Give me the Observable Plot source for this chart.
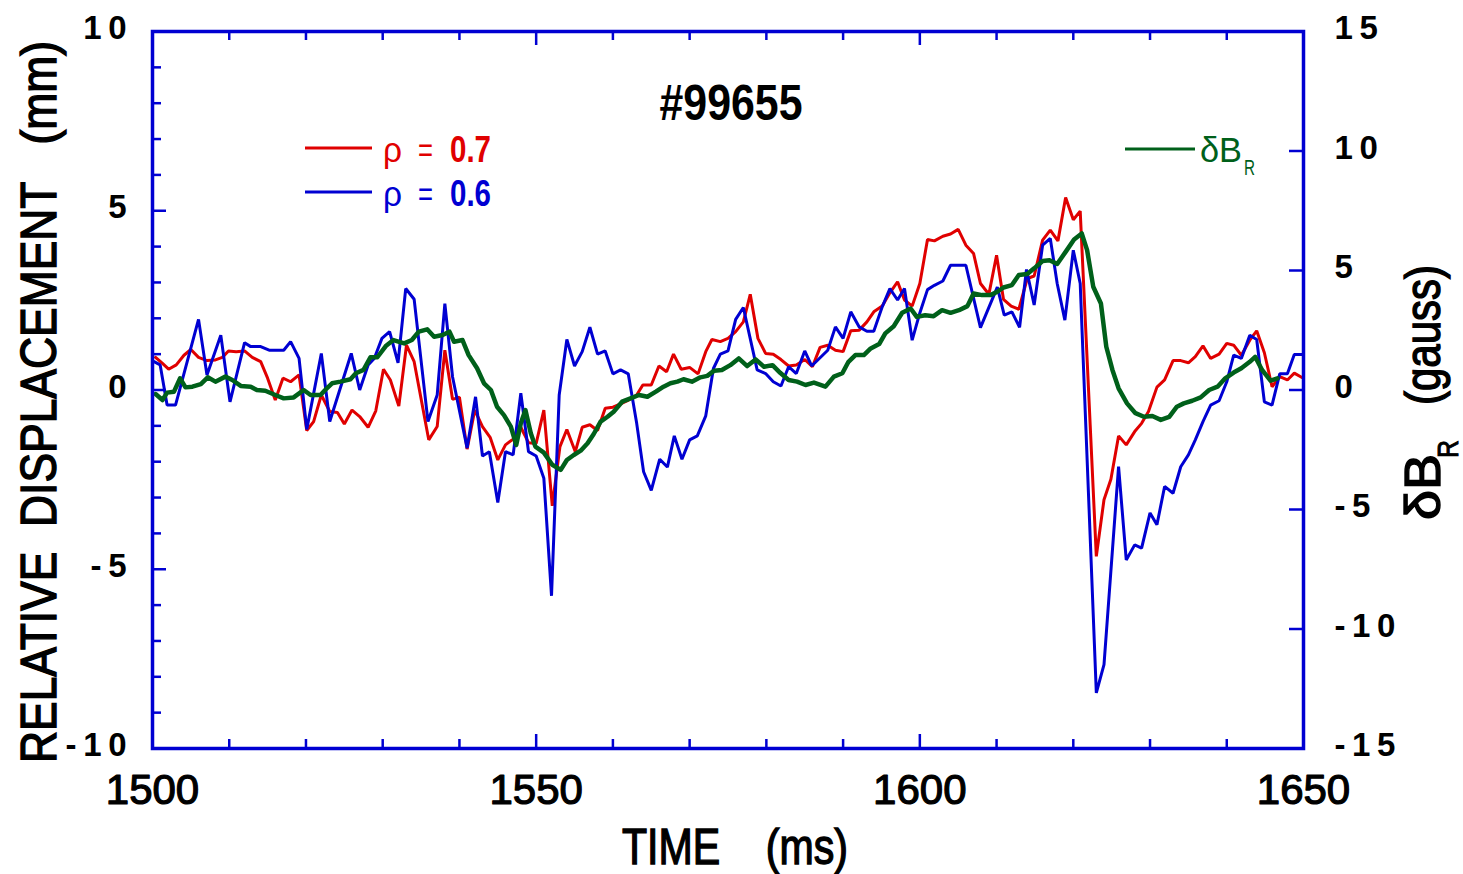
<!DOCTYPE html>
<html><head><meta charset="utf-8">
<script src="https://cdn.jsdelivr.net/npm/d3@7"></script>
<script src="https://cdn.jsdelivr.net/npm/@observablehq/plot@0.6"></script>
<style>
html,body{margin:0;padding:0;background:#fff;}
#chart{position:relative;width:1463px;height:874px;}
</style></head><body><div id="chart"></div>
<script>
// ---- data ----
const shotLabel = "#99655";
const xTickLabels = [1500, 1550, 1600, 1650];
const leftTickLabels = [10, 5, 0, -5, -10];      // mm
const rightTickLabels = [15, 10, 5, 0, -5, -10, -15]; // gauss

// rho = 0.6 (blue), relative displacement in mm
const blueT = [1500.2,1501.0,1501.9,1503.0,1506.0,1507.1,1508.9,1510.1,1512.0,1512.8,
1514.1,1515.2,1517.1,1518.0,1519.1,1520.1,1522.0,1523.1,1525.9,1527.0,
1528.1,1528.9,1529.9,1530.9,1532.0,1533.0,1534.1,1535.9,1537.1,1538.1,
1539.1,1541.0,1542.1,1543.0,1543.9,1545.0,1546.0,1547.0,1548.0,1549.0,
1550.0,1551.0,1552.0,1553.0,1554.0,1555.0,1556.0,1557.0,1558.0,1559.0,
1560.0,1561.0,1562.0,1563.1,1564.0,1565.0,1566.1,1567.1,1568.0,1569.0,
1570.0,1571.0,1572.1,1573.1,1574.0,1575.0,1576.0,1577.0,1578.8,1579.9,
1580.9,1581.9,1582.9,1583.9,1585.0,1585.9,1588.0,1589.0,1590.0,1591.0,
1592.1,1593.1,1594.0,1595.1,1596.1,1597.1,1598.0,1599.0,1600.0,1601.0,
1601.9,1603.0,1604.0,1606.0,1607.9,1610.1,1611.0,1612.0,1613.0,1613.9,
1614.9,1616.0,1617.0,1617.9,1618.9,1620.0,1620.9,1623.0,1624.0,1625.9,
1626.9,1628.0,1628.9,1630.0,1630.9,1631.9,1633.0,1634.0,1635.0,1635.9,
1636.9,1637.9,1639.0,1640.0,1640.9,1641.9,1643.0,1643.9,1644.9,1645.9,
1646.9,1647.9,1648.8,1649.8];
const blueV = [0.79,0.70,-0.42,-0.42,1.97,0.42,1.53,-0.33,1.32,1.21,
1.21,1.11,1.11,1.35,0.88,-1.10,1.02,-0.88,1.02,0.00,
0.70,0.88,1.44,1.63,0.76,2.83,2.53,-0.88,-0.14,2.41,
0.37,-1.62,-0.19,-1.84,-1.72,-3.14,-1.72,-1.81,-0.09,-1.72,
-1.84,-2.46,-5.74,-0.14,1.41,0.67,1.07,1.75,1.00,1.09,
0.45,0.56,0.45,-0.93,-2.28,-2.80,-1.93,-2.15,-1.28,-1.93,
-1.39,-1.28,-0.72,0.60,1.00,1.09,1.97,2.30,0.56,0.46,
0.23,0.11,0.65,0.46,1.09,0.67,1.11,1.76,1.44,2.18,
1.76,1.64,1.64,2.32,2.83,2.51,2.83,1.39,2.15,2.80,
2.92,3.04,3.48,3.48,1.74,2.87,2.09,2.18,1.75,3.36,
2.37,4.04,4.23,2.97,1.95,3.90,2.97,-8.45,-7.66,-2.14,
-4.74,-4.32,-4.41,-3.43,-3.76,-2.69,-2.88,-2.14,-1.81,-1.39,
-0.88,-0.42,-0.30,0.23,0.97,0.88,1.53,1.41,-0.33,-0.42,
0.45,0.45,0.99,0.99];

// rho = 0.7 (red), relative displacement in mm
const redT = [1500.4,1501.3,1502.1,1503.1,1504.1,1505.0,1506.0,1507.1,1508.2,1509.1,
1509.9,1510.9,1512.0,1513.0,1514.1,1515.0,1516.0,1517.0,1518.0,1519.1,
1520.1,1521.0,1522.0,1523.1,1524.1,1525.0,1526.0,1527.0,1528.1,1529.1,
1530.1,1531.0,1532.1,1533.1,1534.1,1536.0,1537.1,1538.1,1539.1,1540.0,
1541.0,1542.0,1543.0,1544.0,1545.0,1546.0,1547.0,1548.0,1549.0,1550.0,
1551.0,1552.1,1553.1,1554.0,1555.1,1556.0,1557.0,1558.0,1559.0,1560.0,
1561.0,1561.9,1563.1,1563.9,1565.0,1566.0,1567.0,1567.9,1568.9,1570.0,
1571.1,1572.1,1572.9,1574.0,1575.0,1576.0,1577.0,1577.9,1578.9,1579.9,
1580.9,1581.9,1582.9,1583.9,1585.0,1586.0,1587.0,1588.0,1589.0,1590.0,
1591.0,1592.1,1593.1,1594.0,1595.1,1596.1,1597.1,1598.0,1599.0,1600.0,
1601.0,1601.9,1603.0,1604.0,1605.0,1606.0,1607.0,1607.9,1609.0,1610.0,
1610.9,1611.9,1612.9,1614.0,1614.9,1616.0,1617.0,1618.0,1619.0,1620.0,
1620.9,1623.0,1624.0,1624.9,1625.9,1626.9,1628.0,1628.9,1629.8,1630.9,
1631.9,1633.0,1634.0,1635.0,1635.9,1636.9,1637.9,1639.0,1640.0,1640.9,
1641.9,1643.0,1643.9,1644.9,1645.9,1646.9,1647.9,1648.8,1649.8];
const redV = [0.91,0.74,0.58,0.70,0.97,1.13,0.91,0.82,0.84,0.91,
1.09,1.07,1.09,0.91,0.79,0.33,-0.28,0.33,0.23,0.42,
-1.13,-0.88,-0.14,-0.60,-0.63,-0.95,-0.56,-0.74,-1.04,-0.58,
0.58,0.28,-0.45,1.25,0.79,-1.39,-1.02,1.11,-0.26,-0.20,
-1.65,-0.56,-1.02,-1.32,-1.95,-1.53,-1.37,-1.04,-1.47,-1.49,
-0.56,-3.23,-1.58,-1.10,-1.72,-1.04,-0.97,-1.13,-0.51,-0.48,
-0.39,-0.30,-0.14,0.14,0.14,0.67,0.51,1.00,0.58,0.63,
0.45,1.07,1.41,1.35,1.44,1.63,1.90,2.67,1.44,1.02,
1.00,0.85,0.67,0.70,0.85,0.65,1.19,1.25,1.11,1.07,
1.65,1.67,1.90,2.18,2.34,2.71,3.02,2.51,2.34,2.97,
4.20,4.16,4.29,4.35,4.48,4.04,3.81,2.97,2.67,3.76,
2.53,2.34,2.25,3.11,3.18,4.18,4.46,4.16,5.37,4.75,
4.99,-4.64,-3.06,-2.49,-1.28,-1.53,-1.16,-0.93,-0.60,0.08,
0.28,0.82,0.82,0.76,0.93,1.23,0.88,1.00,1.30,1.25,
0.97,1.39,1.65,1.04,0.09,0.37,0.28,0.47,0.35];

// deltaB_R (green), gauss
const greenT = [1500.4,1501.3,1501.9,1502.8,1503.6,1504.3,1505.2,1506.3,1507.2,1508.2,
1509.5,1510.4,1511.5,1512.8,1513.6,1514.7,1516.0,1517.1,1518.4,1519.7,
1520.6,1521.9,1522.5,1523.4,1524.5,1525.8,1526.5,1527.5,1528.4,1529.3,
1530.4,1531.4,1532.8,1533.8,1534.7,1535.8,1536.7,1537.8,1538.7,1539.3,
1540.4,1541.2,1542.3,1543.2,1544.1,1544.9,1545.8,1546.7,1547.4,1548.0,
1548.6,1549.3,1549.9,1551.0,1552.1,1553.2,1554.0,1554.9,1555.8,1556.7,
1557.5,1558.4,1559.3,1560.1,1561.2,1562.3,1563.4,1564.5,1565.6,1566.6,
1567.5,1568.4,1569.2,1570.3,1571.4,1572.3,1573.2,1574.2,1575.3,1576.4,
1577.5,1578.6,1579.7,1580.8,1581.8,1582.9,1584.0,1585.1,1586.2,1587.7,
1588.8,1589.9,1590.7,1591.6,1592.7,1593.6,1594.7,1595.5,1596.6,1597.7,
1598.8,1599.6,1600.7,1601.8,1602.9,1604.0,1605.1,1606.2,1607.0,1608.1,
1609.2,1610.1,1610.9,1612.0,1612.9,1614.0,1614.9,1616.0,1616.9,1617.9,
1619.0,1620.1,1621.1,1621.8,1622.6,1623.6,1624.3,1625.1,1625.9,1627.0,
1628.1,1629.2,1630.3,1631.4,1632.5,1633.5,1634.4,1635.5,1636.6,1637.7,
1638.8,1639.8,1640.9,1641.9,1643.0,1643.7,1644.6,1645.7,1646.6];
const greenV = [-0.17,-0.42,-0.11,-0.07,0.49,0.11,0.14,0.25,0.53,0.35,
0.56,0.42,0.17,0.14,0.00,-0.03,-0.21,-0.35,-0.31,0.00,
-0.21,-0.21,0.00,0.28,0.35,0.45,0.70,0.84,1.37,1.37,
1.84,2.09,1.95,2.09,2.44,2.54,2.23,2.30,2.44,2.02,
2.09,1.46,0.91,0.28,0.00,-0.70,-1.05,-1.53,-2.30,-1.39,
-0.84,-1.81,-2.37,-2.62,-3.13,-3.34,-2.93,-2.72,-2.54,-2.23,
-1.84,-1.32,-1.12,-0.91,-0.49,-0.35,-0.21,-0.28,-0.07,0.14,
0.28,0.35,0.45,0.35,0.53,0.59,0.81,0.84,1.04,1.32,
1.00,1.28,0.97,1.04,0.72,0.42,0.35,0.21,0.31,0.14,
0.56,0.70,1.18,1.46,1.46,1.74,1.92,2.37,2.67,3.23,
3.41,3.06,3.13,3.09,3.34,3.23,3.34,3.51,4.04,3.97,
3.97,4.11,4.29,4.39,4.81,4.85,5.09,5.40,5.43,5.27,
5.78,6.30,6.55,5.85,4.32,3.62,1.81,0.84,0.07,-0.56,
-0.97,-1.12,-1.09,-1.25,-1.12,-0.70,-0.56,-0.45,-0.31,0.00,
0.14,0.49,0.73,0.91,1.18,1.39,0.84,0.39,0.49];

// ---- build ----
const red = redT.map((t,i)=>({t, v:redV[i]}));
const blue = blueT.map((t,i)=>({t, v:blueV[i]}));
const green = greenT.map((t,i)=>({t, g:greenV[i]}));
const gToMM = g => g * 20 / 30;  // right axis (-15..15 gauss) onto left axis (-10..10 mm)

const W=1463, H=874, ML=152, MR=160, MT=31, MB=126;
const plotW = W-ML-MR, plotH = H-MT-MB;
const BLUE="#0000d2", RED="#e00000", GREEN="#00601a";
const SANS = "'Liberation Sans',Arial,Helvetica,sans-serif";

const xMinor = d3.range(1510, 1650, 10).filter(d => d !== 1550 && d !== 1600);
const xMajor = [1550, 1600];
const yMinor = d3.range(-9, 10, 1).filter(d => d % 5 !== 0);
const yMajor = [-5, 0, 5];
const gTicks = [-10, -5, 0, 5, 10];
const TS = "\u2009";
const fmtTick = d => (d < 0 ? "-" + TS : "") + String(Math.abs(d)).split("").join(TS);
const TICK = 2.5;

const chart = Plot.plot({
  width: W, height: H,
  marginLeft: ML, marginRight: MR, marginTop: MT, marginBottom: MB,
  x: {domain: [1500, 1650], axis: null},
  y: {domain: [-10, 10], axis: null},
  style: {background: "white", overflow: "visible"},
  marks: [
    // ticks (inward)
    Plot.ruleX(xMinor, {x: d=>d, stroke: BLUE, strokeWidth: TICK, insetTop: plotH - 9}),
    Plot.ruleX(xMajor, {x: d=>d, stroke: BLUE, strokeWidth: TICK, insetTop: plotH - 14}),
    Plot.ruleX(xMinor, {x: d=>d, stroke: BLUE, strokeWidth: TICK, insetBottom: plotH - 9}),
    Plot.ruleX(xMajor, {x: d=>d, stroke: BLUE, strokeWidth: TICK, insetBottom: plotH - 14}),
    Plot.ruleY(yMinor, {y: d=>d, stroke: BLUE, strokeWidth: TICK, insetRight: plotW - 9}),
    Plot.ruleY(yMajor, {y: d=>d, stroke: BLUE, strokeWidth: TICK, insetRight: plotW - 14}),
    Plot.ruleY(gTicks, {y: d=>gToMM(d), stroke: BLUE, strokeWidth: TICK, insetLeft: plotW - 14}),
    // data
    Plot.line(red, {x: "t", y: "v", stroke: RED, strokeWidth: 3, strokeLinejoin: "miter"}),
    Plot.line(blue, {x: "t", y: "v", stroke: BLUE, strokeWidth: 3, strokeLinejoin: "miter"}),
    Plot.line(green, {x: "t", y: d=>gToMM(d.g), stroke: GREEN, strokeWidth: 4.5}),
    Plot.frame({stroke: BLUE, strokeWidth: 3.5}),
    // tick labels
    Plot.text(xTickLabels, {x: d=>d, text: d=>String(d), frameAnchor: "bottom", lineAnchor: "middle",
      textAnchor: "middle", dy: 42, fontSize: 42, fontFamily: SANS, fill: "#000",
      stroke: "#000", strokeWidth: 1.2, ariaLabel: "xlab"}),
    Plot.text(leftTickLabels, {y: d=>d, text: fmtTick, frameAnchor: "left", textAnchor: "end",
      lineAnchor: "middle", dx: -26, dy: -3, fontSize: 33, fontWeight: "bold", fontFamily: SANS,
      fill: "#000"}),
    Plot.text(rightTickLabels, {y: d=>gToMM(d), text: fmtTick, frameAnchor: "right", textAnchor: "start",
      lineAnchor: "middle", dx: 31, dy: -3, fontSize: 33, fontWeight: "bold", fontFamily: SANS,
      fill: "#000"})
  ]
});
document.getElementById("chart").appendChild(chart);

const svg = d3.select(chart);
// condensed look of the reference fonts
svg.selectAll('g[aria-label="xlab"] text').attr("textLength", 86).attr("lengthAdjust", "spacingAndGlyphs");

function label(g, txt, x, y, size, width, opts = {}) {
  const t = g.append("text").attr("x", x).attr("y", y).attr("font-family", SANS)
    .attr("font-size", size).attr("fill", opts.fill || "#000")
    .attr("text-anchor", opts.anchor || "start")
    .attr("font-weight", opts.weight || "normal").text(txt);
  if (opts.sw) t.attr("stroke", opts.fill || "#000").attr("stroke-width", opts.sw);
  if (width) t.attr("textLength", width).attr("lengthAdjust", "spacingAndGlyphs");
  return t;
}
const deco = svg.append("g");
// shot number
label(deco, shotLabel, 731, 120, 50, 143, {anchor: "middle", weight: "bold"});
// x title
label(deco, "TIME\u00a0\u00a0\u00a0\u00a0(ms)", 735, 864, 50, 226, {anchor: "middle", sw: 1.4});
// left title
const lt = deco.append("g").attr("transform", "translate(56,402) rotate(-90)");
label(lt, "RELATIVE\u00a0\u00a0DISPLACEMENT\u00a0\u00a0\u00a0(mm)", 0, 0, 50, 722, {anchor: "middle", sw: 1.4});
// right title: δB_R (gauss)
const rt = deco.append("g").attr("transform", "translate(1440,0) rotate(-90)");
label(rt, "\u03b4B", -520, 0, 50, 66, {sw: 1.4});
label(rt, "R", -458, 18, 30, 18, {sw: 1});
label(rt, "(gauss)", -405, 0, 50, 140, {sw: 1.4});

// legend
function rhoEntry(y, color, val) {
  deco.append("line").attr("x1", 305).attr("x2", 372).attr("y1", y).attr("y2", y)
    .attr("stroke", color).attr("stroke-width", 3);
  label(deco, "\u03c1", 383, y + 14, 35, 19, {fill: color});
  label(deco, "=", 418, y + 14, 35, 15, {fill: color});
  label(deco, val, 450, y + 14, 36, 41, {fill: color, weight: "bold"});
}
rhoEntry(148, RED, "0.7");
rhoEntry(192, BLUE, "0.6");
deco.append("line").attr("x1", 1125).attr("x2", 1195).attr("y1", 149).attr("y2", 149)
  .attr("stroke", GREEN).attr("stroke-width", 3);
label(deco, "\u03b4B", 1200, 162, 35, 42, {fill: GREEN});
label(deco, "R", 1244, 175, 22, 11, {fill: GREEN});
</script>
</body></html>
